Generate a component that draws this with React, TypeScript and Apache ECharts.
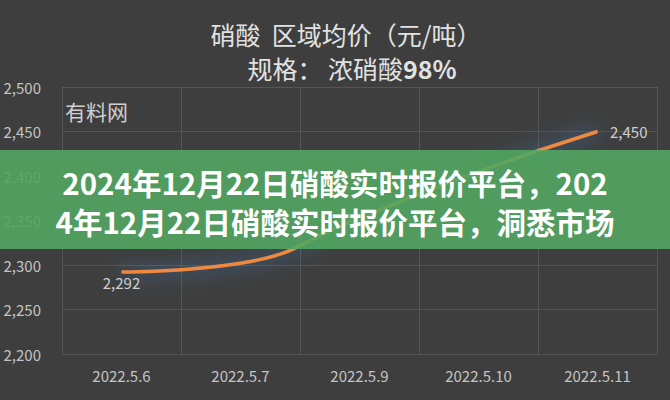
import React, { useEffect, useRef } from "react";
import * as echarts from "echarts";

const categories = ["2022.5.6", "2022.5.7", "2022.5.9", "2022.5.10", "2022.5.11"];
const prices = [2292, 2302, 2353, 2405, 2450];
const labelIndexes = [0, 4];
const yTicks = { min: 2200, max: 2500, interval: 50 };
const titleText = "硝酸  区域均价（元/吨）";
const subtitlePrefix = "规格： 浓硝酸";
const subtitleSpec = "98%";
const watermark = "有料网";
const bannerLines = [
  "2024年12月22日硝酸实时报价平台，202",
  "4年12月22日硝酸实时报价平台，洞悉市场",
];

const CJK = '"Noto Sans CJK SC", "Noto Sans", sans-serif';

export default function App() {
  const ref = useRef<HTMLDivElement>(null);
  useEffect(() => {
    if (!ref.current) return;
    const chart = echarts.init(ref.current, undefined, { renderer: "svg" });
    const fmt = (v: number) => v.toLocaleString("en-US");
    const data = prices.map((v, i) =>
      labelIndexes.includes(i)
        ? {
            value: v,
            label: {
              show: true,
              position: i === 0 ? "bottom" : "right",
              distance: i === 0 ? 2 : 12,
              formatter: (p: any) => fmt(p.value),
              color: "#cfcfcf",
              fontSize: 15,
              fontFamily: CJK,
            },
          }
        : v
    );
    chart.setOption({
      animation: false,
      backgroundColor: "#3e3e3e",
      grid: { left: 62, right: 13, top: 87, bottom: 46 },
      xAxis: {
        type: "category",
        data: categories,
        boundaryGap: true,
        axisLine: { show: false },
        axisTick: { show: false },
        axisLabel: { color: "#c4c4c4", fontSize: 15, fontFamily: CJK, margin: 14 },
        splitLine: { show: true, lineStyle: { color: "#555555", width: 1 } },
      },
      yAxis: {
        type: "value",
        min: yTicks.min,
        max: yTicks.max,
        interval: yTicks.interval,
        axisLine: { show: false },
        axisTick: { show: false },
        axisLabel: {
          color: "#c4c4c4",
          fontSize: 15,
          fontFamily: CJK,
          margin: 21,
          formatter: (v: number) => fmt(v),
        },
        splitLine: { show: true, lineStyle: { color: "#555555", width: 1 } },
      },
      series: [
        {
          type: "line",
          data,
          smooth: true,
          symbol: "circle",
          symbolSize: 1,
          itemStyle: { color: "rgba(0,0,0,0)" },
          lineStyle: {
            color: "#ee8a3c",
            width: 3.5,
            shadowColor: "rgba(60,140,220,0.95)",
            shadowBlur: 20,
          },
          z: 3,
        },
      ],
      graphic: [
        {
          type: "text",
          x: 346,
          y: 34,
          z: 10,
          style: {
            text: titleText,
            fill: "#e2e2e2",
            fontSize: 25,
            fontFamily: CJK,
            textAlign: "center",
            textVerticalAlign: "middle",
          },
        },
        {
          type: "text",
          x: 352,
          y: 68,
          z: 10,
          style: {
            text: `{a|${subtitlePrefix}}{b|${subtitleSpec}}`,
            textAlign: "center",
            textVerticalAlign: "middle",
            rich: {
              a: { fill: "#e2e2e2", fontSize: 25, fontFamily: CJK },
              b: { fill: "#e2e2e2", fontSize: 25, fontFamily: CJK, fontWeight: "bold" },
            },
          },
        },
        {
          type: "text",
          x: 65,
          y: 111,
          z: 10,
          style: {
            text: watermark,
            fill: "#cfcfcf",
            fontSize: 21,
            fontFamily: CJK,
            textAlign: "left",
            textVerticalAlign: "middle",
          },
        },
        {
          type: "rect",
          z: 100,
          shape: { x: 0, y: 150, width: 670, height: 99 },
          style: { fill: "rgba(82,165,96,0.9)" },
        },
        ...bannerLines.map((t, i) => ({
          type: "text",
          x: 335,
          y: 182 + i * 39,
          z: 101,
          style: {
            text: t,
            fill: "#ffffff",
            fontSize: 29.5,
            fontWeight: "bold",
            fontFamily: CJK,
            textAlign: "center",
            textVerticalAlign: "middle",
            shadowColor: "rgba(0,0,0,0.25)",
            shadowBlur: 3,
          },
        })),
      ],
    });
    return () => chart.dispose();
  }, []);
  return (
    <div
      ref={ref}
      style={{ position: "fixed", left: 0, top: 0, width: 670, height: 400 }}
    />
  );
}
